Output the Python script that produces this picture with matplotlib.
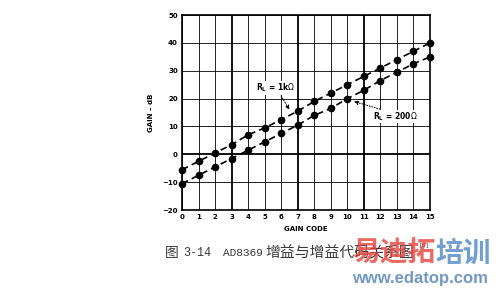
import matplotlib
matplotlib.use("Agg")
import matplotlib.pyplot as plt

codes = list(range(16))
gain_1k = [-5.5, -2.5, 0.5, 3.5, 7, 9.5, 12.5, 15.5, 19, 22, 25, 28, 31, 34, 37, 40]
gain_200 = [-10.5, -7.5, -4.5, -1.5, 1.5, 4.5, 7.5, 10.5, 14, 16.5, 20, 23, 26.5, 29.5, 32.5, 35]
xticks = list(range(16))
yticks = [-20, -10, 0, 10, 20, 30, 40, 50]

fig = plt.figure(figsize=(5, 2.89), dpi=100)
ax = fig.add_axes([0.364, 0.273, 0.496, 0.675])
ax.set_xlim(0, 15)
ax.set_ylim(-20, 50)

for x in xticks:
    lw = 1.3 if x in (3, 7, 11) else 0.6
    ax.axvline(x, color="black", lw=lw, zorder=1)
for y in yticks:
    lw = 1.3 if y == 0 else 0.6
    ax.axhline(y, color="black", lw=lw, zorder=1)

for s in ax.spines.values():
    s.set_linewidth(1.2)

ax.plot(codes, gain_1k, ls=(0, (4, 2.5)), color="black", lw=1.2, marker="o", ms=4.5, zorder=3, clip_on=False)
ax.plot(codes, gain_200, ls=(0, (4, 2.5)), color="black", lw=1.2, marker="o", ms=4.5, zorder=3, clip_on=False)

ax.set_xticks(xticks)
ax.set_yticks(yticks)
ax.tick_params(length=0, labelsize=5, pad=3)
for lab in ax.get_xticklabels() + ax.get_yticklabels():
    lab.set_fontweight("bold")
ax.set_xlabel("GAIN CODE", fontsize=5, fontweight="bold", labelpad=4)
ax.set_ylabel("GAIN – dB", fontsize=5, fontweight="bold", labelpad=6)

ax.annotate(r"R$_\mathregular{L}$ = 1k$\Omega$", xy=(6.5, 16.0), xytext=(4.5, 23.9),
            fontsize=5.5, fontweight="bold", va="center", ha="left",
            arrowprops=dict(arrowstyle="-|>", ls=":", color="black", lw=0.7,
                            mutation_scale=6, relpos=(0.6, 0.0), shrinkA=1, shrinkB=0),
            bbox=dict(fc="white", ec="none", pad=0.5), zorder=4)
ax.annotate(r"R$_\mathregular{L}$ = 200$\Omega$", xy=(10.4, 19.0), xytext=(11.55, 13.6),
            fontsize=5.5, fontweight="bold", va="center", ha="left",
            arrowprops=dict(arrowstyle="-|>", ls=":", color="black", lw=0.7,
                            mutation_scale=6, relpos=(0.24, 1.0), shrinkA=1, shrinkB=0),
            bbox=dict(fc="white", ec="none", pad=0.5), zorder=4)

cjk = ["Noto Sans CJK SC", "DejaVu Sans"]
mono = ["Liberation Mono", "Noto Sans CJK SC"]
cap_color = "#3a3a3a"
yc = 1 - 253 / 289
fig.text(165 / 500, yc, "图", fontsize=10, family=cjk, color=cap_color, va="center")
fig.text(183 / 500, yc, "3-14", fontsize=8.5, family=mono, color=cap_color, va="center")
fig.text(223 / 500, yc, "AD8369", fontsize=8, family=mono, color=cap_color, va="center")
fig.text(265 / 500, yc, "增益与增益代码关系图", fontsize=10.7, family=cjk, color=cap_color, va="center")
fig.text(419 / 500, 1 - 246 / 289, "[6]", fontsize=4.5, family=mono, color=cap_color, va="center")

wy = 1 - 254 / 289
fig.text(352 / 500, wy, "易迪拓", fontsize=20, fontweight="bold", family=cjk,
         color="#e8433c", alpha=0.8, va="center")
fig.text(435 / 500, wy, "培训", fontsize=20, fontweight="bold", family=cjk,
         color="#4f86c6", alpha=0.8, va="center")
fig.text(352 / 500, 1 - 278 / 289, "www.edatop.com", fontsize=12, fontweight="bold",
         family=["Liberation Sans"], color="#5a86b8", alpha=0.85, va="center")

fig.savefig("out.png", dpi=100)
